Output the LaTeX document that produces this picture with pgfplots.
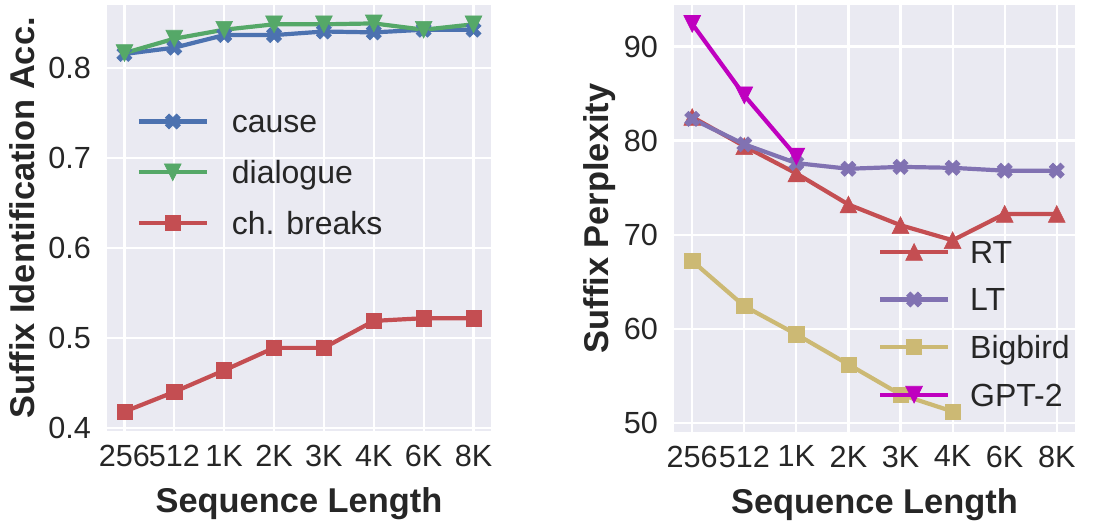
\documentclass[border=0pt]{standalone}
\usepackage{pgfplots}
\pgfplotsset{compat=1.18}
\usepackage{fontspec}
\setmainfont{Liberation Sans}

\definecolor{sbblue}{HTML}{4C72B0}
\definecolor{sbgreen}{HTML}{55A868}
\definecolor{sbred}{HTML}{C44E52}
\definecolor{sbpurple}{HTML}{8172B2}
\definecolor{sbtan}{HTML}{CCB974}
\definecolor{sbmag}{HTML}{BF00BF}
\definecolor{sbbg}{HTML}{EAEAF2}
\definecolor{sbtext}{HTML}{262626}

% matplotlib-like filled markers
\pgfdeclareplotmark{Xf}{%
  \pgfpathmoveto{\pgfpoint{0.4714\pgfplotmarksize}{-0.9428\pgfplotmarksize}}%
  \pgfpathlineto{\pgfpoint{0.9428\pgfplotmarksize}{-0.4714\pgfplotmarksize}}%
  \pgfpathlineto{\pgfpoint{0.4714\pgfplotmarksize}{0pt}}%
  \pgfpathlineto{\pgfpoint{0.9428\pgfplotmarksize}{0.4714\pgfplotmarksize}}%
  \pgfpathlineto{\pgfpoint{0.4714\pgfplotmarksize}{0.9428\pgfplotmarksize}}%
  \pgfpathlineto{\pgfpoint{0pt}{0.4714\pgfplotmarksize}}%
  \pgfpathlineto{\pgfpoint{-0.4714\pgfplotmarksize}{0.9428\pgfplotmarksize}}%
  \pgfpathlineto{\pgfpoint{-0.9428\pgfplotmarksize}{0.4714\pgfplotmarksize}}%
  \pgfpathlineto{\pgfpoint{-0.4714\pgfplotmarksize}{0pt}}%
  \pgfpathlineto{\pgfpoint{-0.9428\pgfplotmarksize}{-0.4714\pgfplotmarksize}}%
  \pgfpathlineto{\pgfpoint{-0.4714\pgfplotmarksize}{-0.9428\pgfplotmarksize}}%
  \pgfpathlineto{\pgfpoint{0pt}{-0.4714\pgfplotmarksize}}%
  \pgfpathclose\pgfusepathqfillstroke}
\pgfdeclareplotmark{tup}{%
  \pgfpathmoveto{\pgfpoint{0pt}{\pgfplotmarksize}}%
  \pgfpathlineto{\pgfpoint{-\pgfplotmarksize}{-\pgfplotmarksize}}%
  \pgfpathlineto{\pgfpoint{\pgfplotmarksize}{-\pgfplotmarksize}}%
  \pgfpathclose\pgfusepathqfillstroke}
\pgfdeclareplotmark{tdown}{%
  \pgfpathmoveto{\pgfpoint{0pt}{-\pgfplotmarksize}}%
  \pgfpathlineto{\pgfpoint{-\pgfplotmarksize}{\pgfplotmarksize}}%
  \pgfpathlineto{\pgfpoint{\pgfplotmarksize}{\pgfplotmarksize}}%
  \pgfpathclose\pgfusepathqfillstroke}

\pgfplotsset{
  sbstyle/.style={
    scale only axis,
    axis background/.style={fill=sbbg},
    axis line style={draw=none},
    grid=major,
    major grid style={white, line width=1.1pt},
    major tick length=0pt,
    tick style={draw=none},
    xmin=-0.35, xmax=7.35,
    xtick={0,...,7},
    xticklabels={256,512,1K,2K,3K,4K,6K,8K},
    /pgf/number format/assume math mode=true,
    tick label style={font=\fontsize{15.3}{18}\selectfont, text=sbtext},
    x tick label style={yshift=-3.5pt},
    y tick label style={xshift=-4.5pt},
    xlabel={Sequence Length},
    label style={font=\fontsize{17.2}{20}\selectfont\bfseries, text=sbtext},
    xlabel style={at={([yshift=-41pt]axis description cs:0.5,0)}, anchor=base},
    ylabel style={anchor=base},
    every axis plot/.append style={line width=2.1pt},
    legend cell align=left,
    legend style={draw=none, fill=none, inner sep=0pt, outer sep=0pt,
      font=\fontsize{16}{19}\selectfont, text=sbtext, column sep=11.5pt,
      nodes={inner sep=0pt, text height=13.7pt, text depth=2.3pt}},
    legend image code/.code={\draw[mark repeat=2,mark phase=2]
      plot coordinates {(0pt,0pt) (17pt,0pt) (34pt,0pt)};},
  }
}

\begin{document}
\begin{tikzpicture}
\path (0,0) rectangle (552pt,261pt);

\begin{axis}[sbstyle, at={(53.5pt,45.5pt)}, anchor=south west,
  width=192pt, height=213pt,
  ymin=0.3965, ymax=0.8705, ytick={0.4,0.5,0.6,0.7,0.8},
  yticklabel style={/pgf/number format/fixed,/pgf/number format/precision=1},
  ylabel={Suffix Identification Acc.},
  ylabel style={at={([xshift=-36pt]axis description cs:0,0.5)}},
  legend style={at={([xshift=14.85pt,yshift=-50.25pt]axis description cs:0,1)},
    anchor=north west, row sep=9.4pt}]
\addplot[sbblue, mark=Xf, mark size=4pt, mark options={solid, line width=0.3pt}]
  coordinates {(0,0.816) (1,0.823) (2,0.837) (3,0.837) (4,0.841) (5,0.840) (6,0.843) (7,0.843)};
\addlegendentry{cause}
\addplot[sbgreen, mark=tdown, mark size=4.2pt, mark options={solid, line width=0.3pt}]
  coordinates {(0,0.817) (1,0.833) (2,0.843) (3,0.849) (4,0.849) (5,0.850) (6,0.843) (7,0.849)};
\addlegendentry{dialogue}
\addplot[sbred, mark=square*, mark size=3.8pt, mark options={solid, line width=0.3pt}]
  coordinates {(0,0.418) (1,0.440) (2,0.464) (3,0.489) (4,0.489) (5,0.519) (6,0.522) (7,0.522)};
\addlegendentry{ch. breaks}
\end{axis}

\begin{axis}[sbstyle, at={(337pt,45.15pt)}, anchor=south west,
  width=200.5pt, height=213.3pt,
  ymin=49.05, ymax=94.4, ytick={50,60,70,80,90},
  ylabel={Suffix Perplexity},
  ylabel style={at={([xshift=-33pt]axis description cs:0,0.5)}},
  legend style={at={([xshift=102pt,yshift=-115.4pt]axis description cs:0,1)},
    anchor=north west, row sep=7.8pt, column sep=10pt}]
\addplot[sbred, mark=tup, mark size=4.2pt, mark options={solid, line width=0.3pt}]
  coordinates {(0,82.5) (1,79.4) (2,76.5) (3,73.2) (4,71.0) (5,69.4) (6,72.2) (7,72.2)};
\addlegendentry{RT}
\addplot[sbpurple, mark=Xf, mark size=4pt, mark options={solid, line width=0.3pt}]
  coordinates {(0,82.3) (1,79.6) (2,77.6) (3,77.0) (4,77.2) (5,77.1) (6,76.8) (7,76.8)};
\addlegendentry{LT}
\addplot[sbtan, mark=square*, mark size=3.8pt, mark options={solid, line width=0.3pt}]
  coordinates {(0,67.2) (1,62.4) (2,59.4) (3,56.2) (4,53.0) (5,51.2)};
\addlegendentry{Bigbird}
\addplot[sbmag, mark=tdown, mark size=4.2pt, mark options={solid, line width=0.3pt}]
  coordinates {(0,92.4) (1,84.8) (2,78.3)};
\addlegendentry{GPT-2}
\end{axis}
\end{tikzpicture}
\end{document}
